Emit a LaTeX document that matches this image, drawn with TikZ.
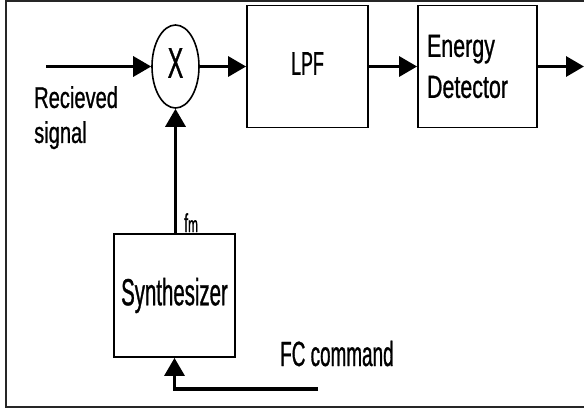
\documentclass[tikz,border=0pt]{standalone}
\usepackage{fontspec}
\usetikzlibrary{arrows.meta,shapes.geometric}
\newfontfamily\narrowsf[FakeStretch=0.54,FakeBold=0.8]{Liberation Sans}
\newfontfamily\midsf[FakeStretch=0.67,FakeBold=0.8]{Liberation Sans}
\tikzset{
  blockbox/.style={draw, line width=1.8pt, minimum width=121pt, minimum height=122pt, inner sep=0pt},
  sigline/.style={line width=3.2pt, -{Triangle[length=18pt,width=20pt]}},
}

\begin{document}
\begin{tikzpicture}[x=1pt, y=-1pt]
  \useasboundingbox (0,0) rectangle (584,412);

  % --- outer frame (right side runs off the page) ---
  \draw[black!85, line width=2pt] (584,1) -- (6,1) -- (6,407) -- (584,407);

  % --- blocks ---
  \node[draw, ellipse, line width=1.6pt, minimum width=47pt, minimum height=83pt, inner sep=0pt,
    text depth=7pt, font=\narrowsf\fontsize{43}{50}\selectfont] (mixer) at (175.5,66.5) {X};
  \node[blockbox, text depth=6pt, font=\narrowsf\fontsize{33}{40}\selectfont] (lpf) at (307.5,66.5) {LPF};
  \node[blockbox, minimum width=119pt, text width=101pt, align=left,
    font=\midsf\fontsize{32}{41}\selectfont] (detector) at (477.5,66.5) {Energy\\Detector};
  \node[blockbox, minimum height=123pt, font=\narrowsf\fontsize{37.8}{44}\selectfont]
    (synth) at (174.5,295.5) {Synthesizer};

  % --- labels ---
  \node[anchor=north west, inner sep=0pt, align=left, font=\midsf\fontsize{30}{35}\selectfont]
    (rxlbl) at (34,86) {Recieved\\signal};
  \node[anchor=base west, inner sep=0pt, font=\narrowsf\fontsize{26}{30}\selectfont]
    (fmlbl) at (184,232) {f\fontsize{22}{26}\selectfont m};
  \node[anchor=base west, inner sep=0pt, font=\narrowsf\fontsize{35}{42}\selectfont]
    (fclbl) at (280,366) {FC command};

  % --- free ends ---
  \coordinate (rxin) at (46,66.5);
  \coordinate (detout) at (584,66.5);
  \coordinate (fcin) at (318,389);

  % --- signal path ---
  \draw[sigline] (rxin) -- (mixer);
  \draw[sigline] (mixer) -- (lpf);
  \draw[sigline] (lpf) -- (detector);
  \draw[sigline] (detector) -- (detout);
  \draw[sigline] (synth.north -| mixer.south) -- (mixer.south);
  \draw[sigline] (fcin) -| (synth.south);

\end{tikzpicture}
\end{document}
